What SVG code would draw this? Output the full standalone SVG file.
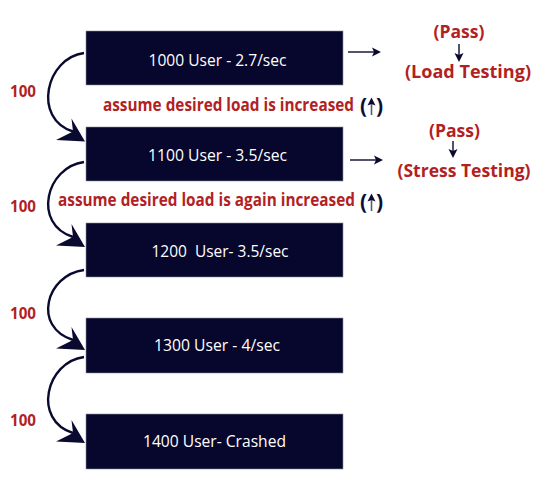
<svg xmlns="http://www.w3.org/2000/svg" xmlns:xlink="http://www.w3.org/1999/xlink" width="544" height="500" viewBox="0 0 544 500">
<style>
.box{fill:#07072d;stroke:#8a8aa0;stroke-width:0.6}
.bt{font-family:"Open Sans","Noto Sans",sans-serif;font-size:17px;fill:#ffffff;text-anchor:middle}
.red{font-family:"Open Sans","Noto Sans",sans-serif;font-weight:bold;fill:#b21f24}
.num{font-size:16px}
.note{font-size:17px}
.res{font-size:18px;text-anchor:middle}
.par{font-family:"Open Sans","Noto Sans",sans-serif;font-size:21px;font-weight:bold;fill:#0d0d35}
.curve{fill:none;stroke:#0a0a30;stroke-width:2.4}
.thin{fill:none;stroke:#0a0a30;stroke-width:1.4}
.upl{fill:none;stroke:#5a5a70;stroke-width:1.6}
.ah{fill:#0a0a30}
</style>
<defs>
<path id="bigHead" d="M0,0 L-29,-1.5 L-12,-10 L-13.5,-23 Z"/>
<path id="rHead" d="M0,0 L-9,-4.5 L-7,0 L-9,4.5 Z"/>
<path id="dHead" d="M0,0 L-4.5,-9 L0,-7 L4.5,-9 Z"/>
<path id="uHead" d="M0,0 L-4,8 L0,6.5 L4,8 Z"/>
</defs>
<g id="connectors">
<path class="curve" d="M84,53 C46,58 32,118.5 73,131.5"/>
<use href="#bigHead" class="ah" x="85" y="141.5"/>
<path class="curve" d="M84,162 C46,167 32,224 73,237"/>
<use href="#bigHead" class="ah" x="85" y="247"/>
<path class="curve" d="M84,270 C46,275 32,327 73,340"/>
<use href="#bigHead" class="ah" x="85" y="350"/>
<path class="curve" d="M84,357 C46,362 32,420 73,433"/>
<use href="#bigHead" class="ah" x="85" y="443"/>
<line class="thin" x1="348" y1="52" x2="375" y2="52"/>
<use href="#rHead" class="ah" x="381" y="52"/>
<line class="thin" x1="350" y1="160" x2="377" y2="160"/>
<use href="#rHead" class="ah" x="383" y="160"/>
<line class="thin" x1="459" y1="44" x2="459" y2="56"/>
<use href="#dHead" class="ah" x="459" y="62"/>
<line class="thin" x1="453" y1="141" x2="453" y2="152"/>
<use href="#dHead" class="ah" x="453" y="158"/>
<line class="upl" x1="371.5" y1="115" x2="371.5" y2="103"/>
<use href="#uHead" class="ah" x="371.5" y="97.5"/>
<line class="upl" x1="371.5" y1="211" x2="371.5" y2="199"/>
<use href="#uHead" class="ah" x="371.5" y="193.5"/>
</g>
<g id="n1000"><rect class="box" x="86" y="31" width="257" height="54"/><text class="bt" x="217.5" y="66" textLength="138" lengthAdjust="spacingAndGlyphs">1000 User - 2.7/sec</text></g>
<g id="n1100"><rect class="box" x="86" y="127" width="257" height="54"/><text class="bt" x="217.5" y="161" textLength="139" lengthAdjust="spacingAndGlyphs">1100 User - 3.5/sec</text></g>
<g id="n1200"><rect class="box" x="86" y="223" width="257" height="54"/><text class="bt" x="220" y="257" textLength="137" lengthAdjust="spacingAndGlyphs" xml:space="preserve">1200  User- 3.5/sec</text></g>
<g id="n1300"><rect class="box" x="86" y="318" width="257" height="55"/><text class="bt" x="217" y="351" textLength="126" lengthAdjust="spacingAndGlyphs">1300 User - 4/sec</text></g>
<g id="n1400"><rect class="box" x="86" y="414" width="257" height="55"/><text class="bt" x="214.5" y="447" textLength="143" lengthAdjust="spacingAndGlyphs">1400 User- Crashed</text></g>
<g id="labels">
<text class="red num" x="10" y="97.3" textLength="26" lengthAdjust="spacingAndGlyphs">100</text>
<text class="red num" x="10" y="211.5" textLength="26" lengthAdjust="spacingAndGlyphs">100</text>
<text class="red num" x="10" y="319" textLength="26" lengthAdjust="spacingAndGlyphs">100</text>
<text class="red num" x="10" y="426" textLength="26" lengthAdjust="spacingAndGlyphs">100</text>
<text class="red note" x="103" y="110.5" textLength="251" lengthAdjust="spacingAndGlyphs">assume desired load is increased</text>
<text class="par" x="360" y="113" textLength="23" lengthAdjust="spacing" xml:space="preserve">( )</text>
<text class="red note" x="58" y="206" textLength="297" lengthAdjust="spacingAndGlyphs">assume desired load is again increased</text>
<text class="par" x="360" y="209" textLength="23" lengthAdjust="spacing" xml:space="preserve">( )</text>
<text class="red res" x="459" y="38" textLength="51" lengthAdjust="spacingAndGlyphs">(Pass)</text>
<text class="red res" x="468" y="78" textLength="126" lengthAdjust="spacingAndGlyphs">(Load Testing)</text>
<text class="red res" x="454.5" y="137" textLength="51" lengthAdjust="spacingAndGlyphs">(Pass)</text>
<text class="red res" x="464" y="177" textLength="133" lengthAdjust="spacingAndGlyphs">(Stress Testing)</text>
</g>
</svg>
